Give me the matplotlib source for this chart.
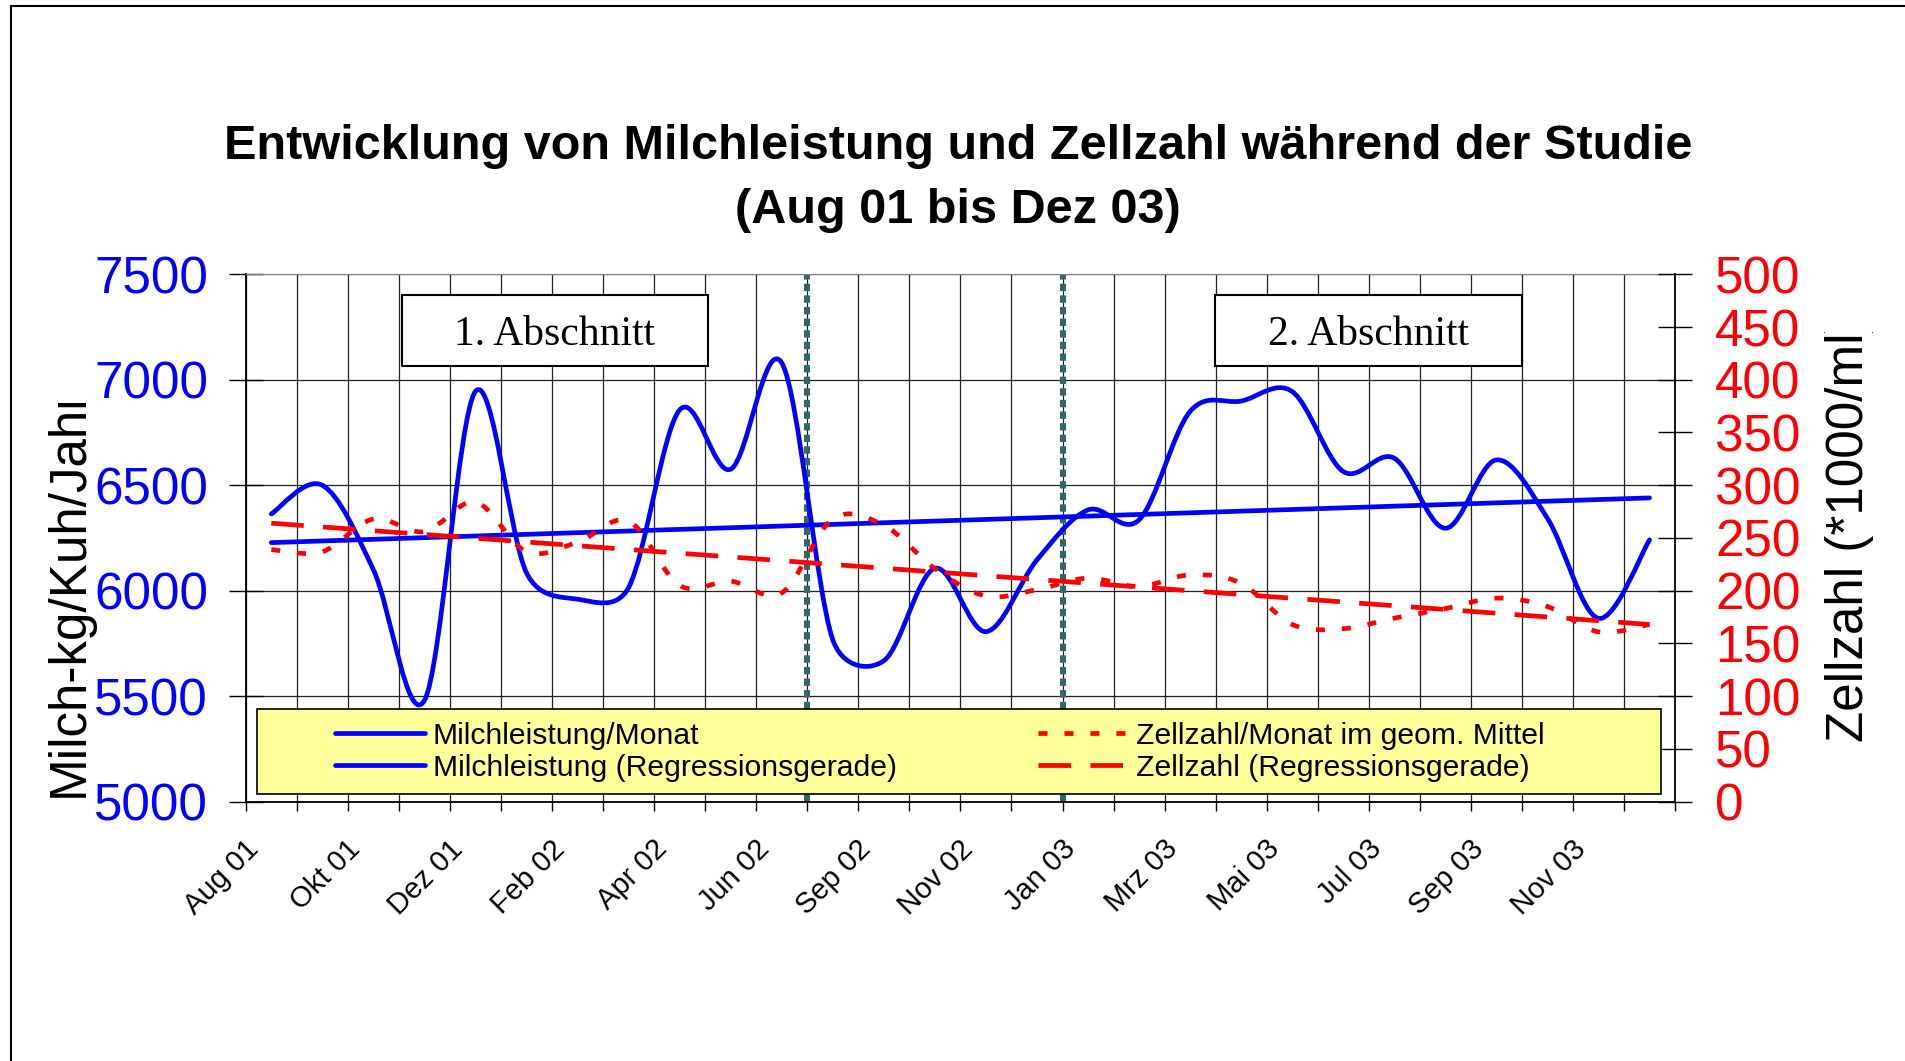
import matplotlib

matplotlib.use("Agg")
import matplotlib.pyplot as plt
import numpy as np
from matplotlib.lines import Line2D
from matplotlib.patches import PathPatch, Rectangle
from matplotlib.path import Path
from matplotlib.ticker import FixedLocator, MultipleLocator
from matplotlib.transforms import ScaledTranslation

# ===== Daten
months = [
    "Aug 01", "Sep 01", "Okt 01", "Nov 01", "Dez 01", "Jan 02", "Feb 02",
    "Mrz 02", "Apr 02", "Mai 02", "Jun 02", "Aug 02", "Sep 02", "Okt 02",
    "Nov 02", "Dez 02", "Jan 03", "Feb 03", "Mrz 03", "Apr 03", "Mai 03",
    "Jun 03", "Jul 03", "Aug 03", "Sep 03", "Okt 03", "Nov 03", "Dez 03",
]
tick_labels = months[::2]

milk_month = [
    6364, 6500, 6100, 5480, 6945, 6085, 5960, 6015, 6857, 6576, 7080, 5767,
    5668, 6106, 5806, 6146, 6383, 6336, 6850, 6899, 6944, 6565, 6628, 6296,
    6620, 6343, 5869, 6241,
]
cells_month = [
    239, 237, 268, 256, 284, 237, 246, 266, 205, 209, 198, 268, 262, 221,
    195, 201, 212, 204, 215, 207, 168, 164, 174, 183, 193, 185, 161, 168,
]
# Regressionsgeraden: Werte am ersten und letzten Monat
milk_trend = [6228, 6440]
cells_trend = [264, 168]

# Abschnittsgrenzen (zwischen Jun 02 / Aug 02 und Dez 02 / Jan 03)
section_bounds = [10.5, 15.5]

BLUE = "#0000FF"
RED = "#FF0000"


def smooth_path(ax, x, y):
    """Excel-artige geglaettete Linie als Bezier-Pfad (in Pixeln berechnet)"""
    pts = ax.transData.transform(np.column_stack([x, y]).astype(float))
    ext = np.vstack([pts[0], pts, pts[-1]])
    verts = [pts[0]]
    codes = [Path.MOVETO]
    for i in range(len(pts) - 1):
        p0, p1, p2, p3 = ext[i], ext[i + 1], ext[i + 2], ext[i + 3]
        half = np.hypot(*(p2 - p1)) / 2
        t1 = (p2 - p0) / 6
        t2 = (p3 - p1) / 6
        n1, n2 = np.hypot(*t1), np.hypot(*t2)
        if n1 > half:
            t1 = t1 * half / n1
        if n2 > half:
            t2 = t2 * half / n2
        verts += [p1 + t1, p2 - t2, p2]
        codes += [Path.CURVE4] * 3
    verts = ax.transData.inverted().transform(np.array(verts))
    return Path(verts, codes)


def clipped_label(fig, x, y, text, shown, extra_px, **kw):
    """Beschriftung, die wie im Original oben abgeschnitten ist"""
    label = fig.text(x, y, text, zorder=3, **kw)
    probe = fig.text(x, y, shown, **kw)
    renderer = fig.canvas.get_renderer()
    cut = probe.get_window_extent(renderer).y1 + extra_px
    probe.remove()
    full = label.get_window_extent(renderer)
    # weisse Maske ueber dem abgeschnittenen Teil
    fig.add_artist(Rectangle((full.x0 - 2, cut), full.width + 4,
                             full.y1 - cut + 4, transform=None,
                             facecolor="white", edgecolor="none", zorder=4))
    return label


def main():
    plt.rcParams["font.family"] = ["Liberation Sans", "DejaVu Sans"]

    fig = plt.figure(figsize=(19.05, 10.61), dpi=100)
    fig.patch.set_facecolor("white")
    ax = fig.add_axes([0.1290, 0.2444, 0.7503, 0.4971])
    ax2 = ax.twinx()

    x = np.arange(len(months))
    x_trend = [x[0], x[-1]]

    # ===== Achsen
    ax.set_xlim(-0.5, len(months) - 0.5)
    ax.set_ylim(5000, 7500)
    ax2.set_ylim(0, 500)

    ax.yaxis.set_major_locator(MultipleLocator(500))
    ax2.yaxis.set_major_locator(MultipleLocator(50))
    ax.xaxis.set_major_locator(FixedLocator(x[::2]))
    ax.xaxis.set_minor_locator(FixedLocator(np.arange(-0.5, len(months), 1.0)))
    ax.set_xticklabels(tick_labels)

    ax.tick_params(axis="y", direction="inout", length=24.5, width=1.0,
                   labelsize=36.8, labelcolor=BLUE, pad=15)
    ax2.tick_params(axis="y", direction="inout", length=24.5, width=1.0,
                    labelsize=36.8, labelcolor=RED, pad=16.5)
    ax.tick_params(axis="x", which="major", length=0, labelsize=21, pad=31)
    ax.tick_params(axis="x", which="minor", direction="out", length=6.5,
                   width=1.0)
    offset = ScaledTranslation(-17 / 100, 0, fig.dpi_scale_trans)
    for lbl in ax.get_xticklabels():
        lbl.set_rotation(45)
        lbl.set_rotation_mode("anchor")
        lbl.set_ha("right")
        lbl.set_va("center")
        lbl.set_transform(lbl.get_transform() + offset)

    ax.grid(True, which="major", axis="y", color="#202020", lw=0.9)
    ax.grid(True, which="minor", axis="x", color="#202020", lw=0.9)
    ax.set_axisbelow(True)

    for name in ["left", "bottom"]:
        ax.spines[name].set_linewidth(1.3)
        ax.spines[name].set_color("black")
    ax.spines["top"].set_color("#808080")
    ax.spines["right"].set_visible(False)
    for name in ["left", "bottom", "top"]:
        ax2.spines[name].set_visible(False)
    ax2.spines["right"].set_linewidth(1.3)
    ax2.spines["right"].set_color("black")

    # ===== Abschnittsgrenzen
    for b in section_bounds:
        ax.axvline(b, color="#336666", lw=4.4, linestyle=(0, (1.2, 0.7)),
                   zorder=1.5)

    # ===== Milchleistung (linke Achse)
    ax.add_patch(PathPatch(smooth_path(ax, x, milk_month), fill=False,
                           edgecolor=BLUE, lw=3.4, capstyle="round",
                           joinstyle="round", zorder=3))
    ax.plot(x_trend, milk_trend, color=BLUE, lw=3.4,
            solid_capstyle="round", zorder=3)

    # ===== Zellzahl (rechte Achse)
    dotted = (0, (1.9, 3.6))
    dashed = (0, (6.9, 4.1))
    ax2.add_patch(PathPatch(smooth_path(ax2, x, cells_month), fill=False,
                            edgecolor=RED, lw=3.4, linestyle=dotted,
                            capstyle="butt", zorder=3))
    ax2.plot(x_trend, cells_trend, color=RED, lw=3.4, linestyle=dashed,
             dash_capstyle="butt", zorder=3)

    # ===== Abschnitt-Kaesten
    for x0, x1, txt in [(0.1091, 0.3234, "1. Abschnitt"),
                        (0.6782, 0.8927, "2. Abschnitt")]:
        ax2.add_patch(Rectangle((x0, 0.8261), x1 - x0, 0.1354,
                                transform=ax2.transAxes, facecolor="white",
                                edgecolor="black", lw=1.5, zorder=5))
        ax2.text((x0 + x1) / 2, 0.866, txt, transform=ax2.transAxes,
                 ha="center", va="baseline", fontsize=30,
                 family="Liberation Serif", zorder=6)

    # ===== Legende
    ax2.add_patch(Rectangle((0.0081, 0.014), 0.9821, 0.161,
                            transform=ax2.transAxes, facecolor="#FFFF99",
                            edgecolor="black", lw=1.2, zorder=5,
                            clip_on=False))
    handles = [
        Line2D([], [], color=BLUE, lw=3.4, solid_capstyle="round"),
        Line2D([], [], color=BLUE, lw=3.4, solid_capstyle="round"),
        Line2D([], [], color=RED, lw=3.4, linestyle=dotted),
        Line2D([], [], color=RED, lw=3.4, linestyle=dashed),
    ]
    labels = [
        "Milchleistung/Monat",
        "Milchleistung (Regressionsgerade)",
        "Zellzahl/Monat im geom. Mittel",
        "Zellzahl (Regressionsgerade)",
    ]
    leg = ax2.legend(handles, labels, ncol=2, loc="center left",
                     bbox_to_anchor=(0.0625, 0.0948), frameon=False,
                     fontsize=21.7, handlelength=3.0, handletextpad=0.24,
                     columnspacing=4.7, labelspacing=0.12, borderpad=0,
                     borderaxespad=0)
    leg.set_zorder(6)

    # ===== Titel und Achsenbeschriftungen
    fig.text(0.5029, 0.8499,
             "Entwicklung von Milchleistung und Zellzahl während der Studie",
             ha="center", va="baseline", fontsize=35, weight="bold")
    fig.text(0.5029, 0.7895, "(Aug 01 bis Dez 03)", ha="center",
             va="baseline", fontsize=35, weight="bold")

    # Beschriftungen sind im Original oben abgeschnitten
    label_kw = dict(rotation=90, ha="center", va="bottom", fontsize=36.8)
    clipped_label(fig, 0.0363, 0.2488, "Milch-kg/Kuh/Jahr",
                  "Milch-kg/Kuh/Jah", 2, **label_kw)
    clipped_label(fig, 0.9709, 0.301, "Zellzahl (*1000/ml)",
                  "Zellzahl (*1000/ml", 0, **label_kw)

    # Rahmen links und oben
    fig.add_artist(Line2D([0.006, 0.006], [0, 0.9943], color="black",
                          lw=1.5, transform=fig.transFigure))
    fig.add_artist(Line2D([0.006, 1], [0.9943, 0.9943], color="black",
                          lw=1.5, transform=fig.transFigure))

    fig.savefig("out.png", dpi=100, facecolor="white")


if __name__ == "__main__":
    main()
